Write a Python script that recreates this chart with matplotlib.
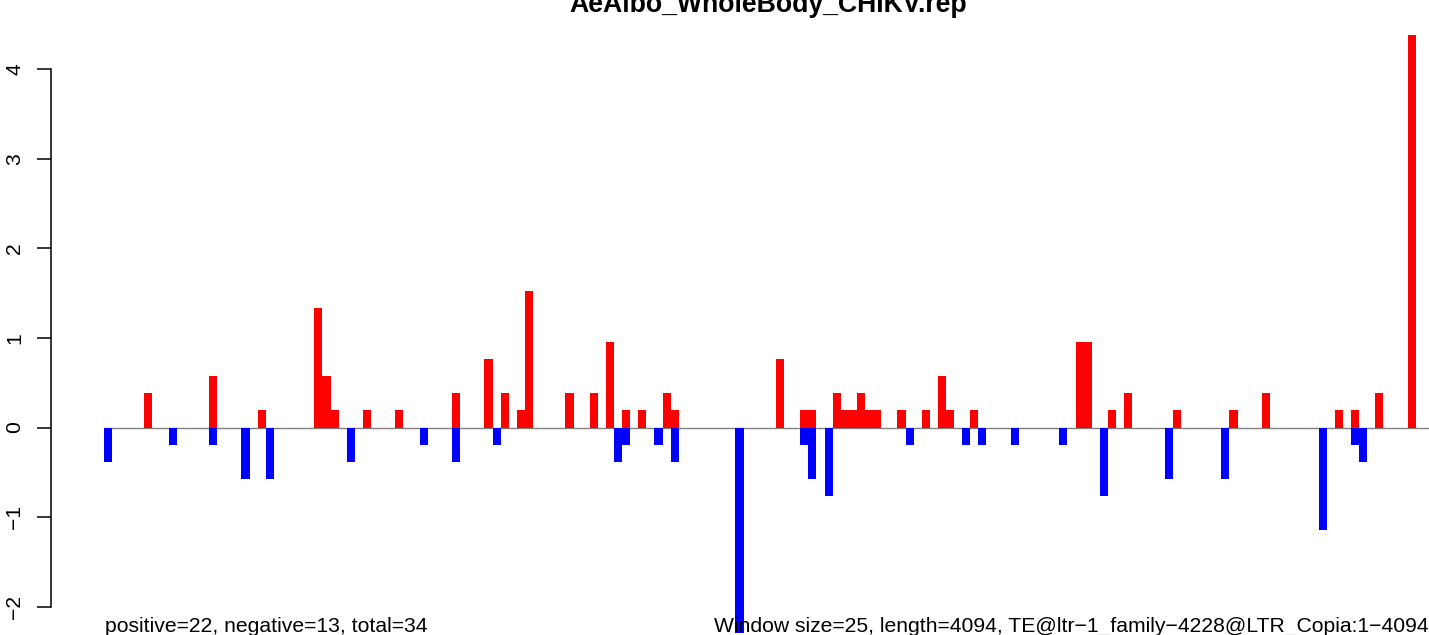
import matplotlib.pyplot as plt

plt.rcParams['font.family'] = ['Liberation Sans', 'DejaVu Sans']

# window index (25 bp bins) and score of each bar
pos_bins = [5, 13, 19, 26, 27, 28, 32, 36, 43, 47, 49, 51, 52, 57, 60, 62, 64, 66,
            69, 70, 83, 86, 87, 90, 91, 92, 93, 94, 95, 98, 101, 103, 104, 107,
            120, 121, 124, 126, 132, 139, 143, 152, 154, 157, 161]
pos_vals = [0.38, 0.57, 0.19, 1.33, 0.57, 0.19, 0.19, 0.19, 0.38, 0.76, 0.38, 0.19, 1.52,
            0.38, 0.38, 0.95, 0.19, 0.19, 0.38, 0.19, 0.76, 0.19, 0.19, 0.38, 0.19,
            0.19, 0.38, 0.19, 0.19, 0.19, 0.19, 0.57, 0.19, 0.19, 0.95, 0.95, 0.19,
            0.38, 0.19, 0.19, 0.38, 0.19, 0.19, 0.38, 4.38]
neg_bins = [0, 8, 13, 17, 20, 30, 39, 43, 48, 63, 64, 68, 70, 78, 86, 87, 89, 99,
            106, 108, 112, 118, 123, 131, 138, 150, 154, 155]
neg_vals = [-0.38, -0.19, -0.19, -0.57, -0.57, -0.38, -0.19, -0.38, -0.19, -0.38, -0.19,
            -0.19, -0.38, -2.29, -0.19, -0.57, -0.76, -0.19, -0.19, -0.19, -0.19,
            -0.19, -0.76, -0.57, -0.57, -1.14, -0.19, -0.38]
n_bins = 164
yticks = [-2, -1, 0, 1, 2, 3, 4]

title = "AeAlbo_WholeBody_CHIKV.rep"
left_note = "positive=22, negative=13, total=34"
right_note = "Window size=25, length=4094, TE@ltr\u22121_family\u22124228@LTR_Copia:1\u22124094"

W, H = 1429, 635
fig = plt.figure(figsize=(W / 100, H / 100), dpi=100)
# plot region runs past the right and bottom edges of the picture
ax = fig.add_axes([50.7 / W, (H - 657) / H, (1485 - 50.7) / W, 646 / H])
ax.set_xlim(-6.56, n_bins + 6.56)
ax.set_ylim(-2.561, 4.648)

ax.hlines(0, 0, n_bins, color='#808080', lw=1, zorder=1)
ax.bar(pos_bins, pos_vals, width=1, align='edge', color='#ff0000', linewidth=0, zorder=2)
ax.bar(neg_bins, neg_vals, width=1, align='edge', color='#0000ff', linewidth=0, zorder=2)

for s in ['top', 'right', 'bottom']:
    ax.spines[s].set_visible(False)
ax.spines['left'].set_bounds(-2, 4)
ax.spines['left'].set_linewidth(1.1)
ax.set_xticks([])
ax.set_yticks(yticks)
ax.set_yticklabels([str(t).replace('-', '\u2212') for t in yticks],
                   rotation=90, va='center', fontsize=15.2)
ax.tick_params(axis='y', length=10, width=1.1, pad=9)

fig.text(768 / W, 1 - 12 / H, title, ha='center', va='baseline',
         fontsize=19.2, fontweight='bold')
fig.text(105 / W, 1 - 632 / H, left_note, ha='left', va='baseline', fontsize=15.2)
fig.text(1429 / W, 1 - 632 / H, right_note, ha='right', va='baseline', fontsize=15.2)

fig.savefig('out.png', dpi=100)
